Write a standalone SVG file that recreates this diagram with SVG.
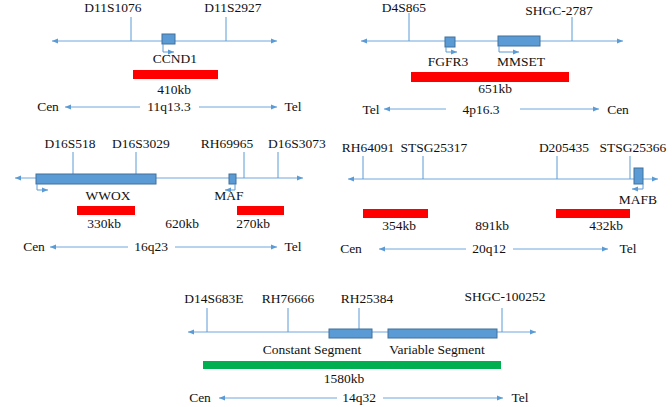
<svg xmlns="http://www.w3.org/2000/svg" width="672" height="407" viewBox="0 0 672 407">
<style>
text{font-family:"Liberation Serif","Times New Roman",serif;font-size:13.5px;fill:#111;text-anchor:middle}
.ln{stroke:#6FA6DC;stroke-width:1;fill:none}
.tk{stroke:#5B9BD5;stroke-width:1;fill:none}
.bx{fill:#5B9BD5;stroke:#41719C;stroke-width:1}
.red{fill:#FF0000}
.grn{fill:#00B050}
.tss{stroke:#5B9BD5;stroke-width:1;fill:none;marker-end:url(#ah)}
.dbl{marker-start:url(#as);marker-end:url(#ah)}
.one{marker-end:url(#ah)}
</style>
<defs>
<marker id="ah" viewBox="0 0 6 6" refX="6" refY="3" markerWidth="6" markerHeight="6" markerUnits="userSpaceOnUse" orient="auto"><path d="M0,0.5L6,3L0,5.5z" fill="#5B9BD5"/></marker>
<marker id="as" viewBox="0 0 6 6" refX="0" refY="3" markerWidth="6" markerHeight="6" markerUnits="userSpaceOnUse" orient="auto"><path d="M6,0.5L0,3L6,5.5z" fill="#5B9BD5"/></marker>
</defs>
<rect width="672" height="407" fill="#fff"/>
<g id="connectors">
<!-- panel 1 -->
<line class="ln dbl" x1="52" y1="41" x2="277" y2="41"/>
<line class="ln one" x1="140" y1="107" x2="65" y2="107"/>
<line class="ln one" x1="199" y1="107" x2="277" y2="107"/>
<!-- panel 2 -->
<line class="ln dbl" x1="361" y1="41" x2="623" y2="41"/>
<line class="ln one" x1="446" y1="109" x2="384" y2="109"/>
<line class="ln one" x1="520" y1="109" x2="599" y2="109"/>
<!-- panel 3 -->
<line class="ln dbl" x1="15" y1="178" x2="303" y2="178"/>
<line class="ln one" x1="128" y1="247" x2="50" y2="247"/>
<line class="ln one" x1="175" y1="247" x2="277" y2="247"/>
<!-- panel 4 -->
<line class="ln dbl" x1="348" y1="179" x2="658" y2="179"/>
<line class="ln one" x1="466" y1="249" x2="379" y2="249"/>
<line class="ln one" x1="513" y1="249" x2="608" y2="249"/>
<!-- panel 5 -->
<line class="ln dbl" x1="188" y1="332" x2="536" y2="332"/>
<line class="ln one" x1="337" y1="398" x2="219" y2="398"/>
<line class="ln one" x1="383" y1="398" x2="503" y2="398"/>
</g>
<g id="panel-11q13">
<line class="tk" x1="131" y1="17" x2="131" y2="41"/>
<line class="tk" x1="226" y1="17" x2="226" y2="41"/>
<text x="113" y="12">D11S1076</text>
<text x="233" y="12">D11S2927</text>
<rect class="bx" x="162" y="34" width="13" height="10"/>
<path class="tss" d="M163,44V52H174"/>
<text x="175" y="63">CCND1</text>
<rect class="red" x="133" y="70" width="85" height="9"/>
<text x="174" y="94">410kb</text>
<text x="48" y="111">Cen</text>
<text x="169" y="111">11q13.3</text>
<text x="293" y="111">Tel</text>
</g>
<g id="panel-4p16">
<line class="tk" x1="409" y1="13" x2="409" y2="41"/>
<line class="tk" x1="572" y1="17" x2="572" y2="41"/>
<text x="404" y="12">D4S865</text>
<text x="559" y="15">SHGC-2787</text>
<rect class="bx" x="445" y="37" width="10" height="10"/>
<path class="tss" d="M446,47V52H457"/>
<rect class="bx" x="498" y="36" width="42" height="10"/>
<path class="tss" d="M499,46V52H519"/>
<text x="448" y="66">FGFR3</text>
<text x="521" y="66">MMSET</text>
<rect class="red" x="411" y="72" width="158" height="10"/>
<text x="495" y="93">651kb</text>
<text x="371" y="114">Tel</text>
<text x="481" y="114">4p16.3</text>
<text x="618" y="114">Cen</text>
</g>
<g id="panel-16q23">
<line class="tk" x1="73" y1="152" x2="73" y2="174"/>
<line class="tk" x1="136" y1="152" x2="136" y2="174"/>
<line class="tk" x1="244" y1="152" x2="244" y2="178"/>
<line class="tk" x1="278" y1="152" x2="278" y2="178"/>
<text x="70" y="148">D16S518</text>
<text x="141" y="148">D16S3029</text>
<text x="227" y="148">RH69965</text>
<text x="297" y="148">D16S3073</text>
<rect class="bx" x="36" y="174" width="120" height="10"/>
<path class="tss" d="M37,184V190H48"/>
<rect class="bx" x="229" y="174" width="7" height="10"/>
<path class="tss" d="M235,184V190H225"/>
<text x="108" y="200">WWOX</text>
<text x="229" y="200">MAF</text>
<rect class="red" x="77" y="206" width="58" height="9"/>
<rect class="red" x="237" y="206" width="47" height="9"/>
<text x="104" y="228">330kb</text>
<text x="182" y="228">620kb</text>
<text x="253" y="228">270kb</text>
<text x="34" y="251">Cen</text>
<text x="151" y="251">16q23</text>
<text x="293" y="251">Tel</text>
</g>
<g id="panel-20q12">
<line class="tk" x1="363" y1="156" x2="363" y2="179"/>
<line class="tk" x1="423" y1="156" x2="423" y2="179"/>
<line class="tk" x1="557" y1="156" x2="557" y2="179"/>
<line class="tk" x1="630" y1="156" x2="630" y2="179"/>
<text x="368" y="152">RH64091</text>
<text x="434" y="152">STSG25317</text>
<text x="564" y="152">D205435</text>
<text x="633" y="152">STSG25366</text>
<rect class="bx" x="634" y="168" width="9" height="16"/>
<path class="tss" d="M643,184V189H632"/>
<text x="638" y="204">MAFB</text>
<rect class="red" x="363" y="209" width="65" height="9"/>
<rect class="red" x="556" y="209" width="74" height="9"/>
<text x="399" y="230">354kb</text>
<text x="492" y="230">891kb</text>
<text x="606" y="230">432kb</text>
<text x="351" y="253">Cen</text>
<text x="489" y="253">20q12</text>
<text x="628" y="253">Tel</text>
</g>
<g id="panel-14q32">
<line class="tk" x1="207" y1="308" x2="207" y2="332"/>
<line class="tk" x1="288" y1="308" x2="288" y2="332"/>
<line class="tk" x1="359" y1="308" x2="359" y2="329"/>
<line class="tk" x1="502" y1="308" x2="502" y2="332"/>
<text x="214" y="303">D14S683E</text>
<text x="288" y="303">RH76666</text>
<text x="367" y="303">RH25384</text>
<text x="505" y="301">SHGC-100252</text>
<rect class="bx" x="329" y="329" width="43" height="9"/>
<rect class="bx" x="388" y="329" width="109" height="9"/>
<text x="312" y="354">Constant Segment</text>
<text x="437" y="354">Variable Segment</text>
<rect class="grn" x="203" y="361" width="298" height="8"/>
<text x="344" y="383">1580kb</text>
<text x="200" y="402">Cen</text>
<text x="359" y="402">14q32</text>
<text x="520" y="402">Tel</text>
</g>
</svg>
